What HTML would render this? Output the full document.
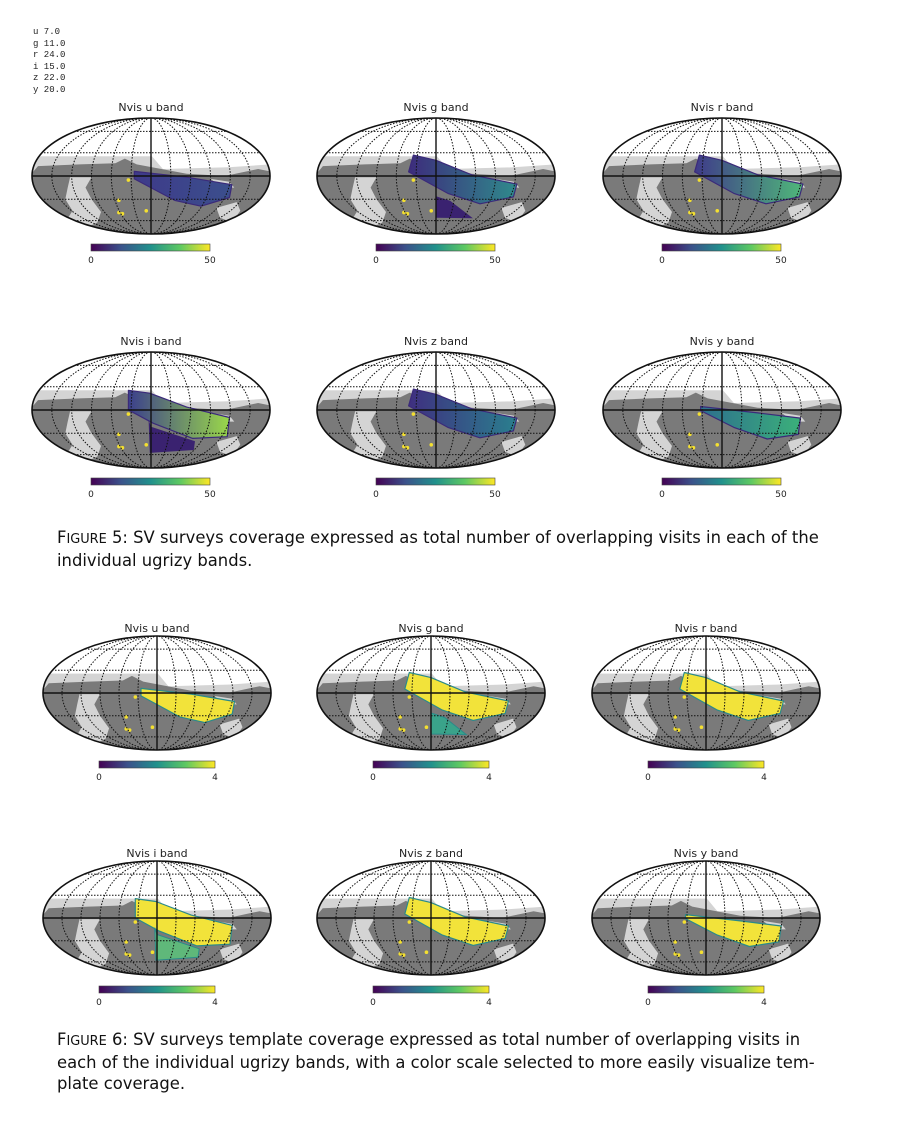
<!DOCTYPE html>
<html><head><meta charset="utf-8"><style>
body{margin:0;background:#fff;}
#root{position:relative;width:916px;height:1146px;overflow:hidden;font-family:"Liberation Sans",sans-serif;}
.cap{position:absolute;left:57px;font-family:"DejaVu Sans","Liberation Sans",sans-serif;font-size:16.4px;line-height:21px;color:#111;white-space:nowrap;}
.sc{font-size:12.9px;}
#legend{position:absolute;left:33px;top:27px;font-family:"Liberation Mono",monospace;font-size:9px;line-height:11.6px;color:#222;white-space:pre;}
</style></head><body>
<div id="root">
<div id="legend">u 7.0
g 11.0
r 24.0
i 15.0
z 22.0
y 20.0</div>
<svg id="svg" width="916" height="1146" style="position:absolute;left:0;top:0">
<defs>
<linearGradient id="viridis" x1="0" x2="1" y1="0" y2="0">
<stop offset="0" stop-color="#440154"/><stop offset="0.25" stop-color="#3b528b"/><stop offset="0.5" stop-color="#21918c"/><stop offset="0.75" stop-color="#5ec962"/><stop offset="1" stop-color="#fde725"/>
</linearGradient>
</defs>
</svg>
<div class="cap" style="top:527px">F<span class="sc">IGURE</span> 5: SV surveys coverage expressed as total number of overlapping visits in each of the<br>individual ugrizy bands.</div>
<div class="cap" style="top:1029px">F<span class="sc">IGURE</span> 6: SV surveys template coverage expressed as total number of overlapping visits in<br>each of the individual ugrizy bands, with a color scale selected to more easily visualize tem-<br>plate coverage.</div>
</div>
<script>
const bands = ['u','g','r','i','z','y'];
const fig5Max = 50;
const fig6Max = 4;
const stripes = {
 u:[[-0.14,-0.08],[0.3,0.02],[0.68,0.15],[0.66,0.37],[0.42,0.52],[0.2,0.42],[-0.14,0.05]],
 g:[[-0.19,-0.36],[0.0,-0.27],[0.3,-0.02],[0.68,0.14],[0.65,0.36],[0.37,0.48],[0.1,0.3],[-0.23,-0.07]],
 r:[[-0.19,-0.36],[0.0,-0.27],[0.3,-0.02],[0.68,0.14],[0.65,0.36],[0.37,0.48],[0.1,0.3],[-0.23,-0.07]],
 i:[[-0.19,-0.34],[-0.01,-0.29],[0.3,-0.05],[0.66,0.13],[0.64,0.46],[0.35,0.49],[0.02,0.23],[-0.19,0]],
 z:[[-0.19,-0.36],[0.0,-0.27],[0.3,-0.02],[0.68,0.14],[0.65,0.36],[0.37,0.48],[0.1,0.3],[-0.23,-0.07]],
 y:[[-0.18,-0.06],[0.3,0.05],[0.66,0.14],[0.64,0.42],[0.38,0.5],[0.1,0.3],[-0.18,0.01]]
};
const extras = {
 g:[[0,0.35],[0,0.72],[0.31,0.73],[0.12,0.43]],
 i:[[-0.02,0.17],[-0.01,0.74],[0.36,0.69],[0.37,0.54],[0,0.29]]
};
const fig5Colors = {u:['#3e3a8a','#3b4f8c'],g:['#3d2c7c','#2f8a8c'],r:['#3f3a8a','#4fb87a'],i:['#3b3f8c','#9ad84a'],z:['#3f2f80','#2a7f8e'],y:['#2d6f8e','#3bb07a']};
const dots = [[-0.19,0.07],[-0.27,0.42],[-0.04,0.6],[-0.27,0.63],[-0.24,0.65]];
const NS='http://www.w3.org/2000/svg';
const svg=document.getElementById('svg');
function el(t,a,p){const e=document.createElementNS(NS,t);for(const k in a)e.setAttribute(k,a[k]);(p||svg).appendChild(e);return e;}
function poly(pts,cx,cy,rx,ry){return pts.map(p=>(cx+p[0]*rx).toFixed(1)+','+(cy+p[1]*ry).toFixed(1)).join(' ');}
let idc=0;
function drawMap(band,cx,cy,rx,ry,titleY,cb,fig6){
 const g=el('g',{});
 
 
 const cid='c'+(idc++);
 const cp=el('clipPath',{id:cid},g);el('ellipse',{cx,cy,rx,ry},cp);
 const t=el('text',{x:cx,y:titleY,'text-anchor':'middle','font-size':'11','fill':'#222','font-family':'DejaVu Sans, Liberation Sans, sans-serif'},g);
 t.textContent='Nvis '+band+' band';
 
 
 const m=el('g',{'clip-path':'url(#'+cid+')'},g);
 el('ellipse',{cx,cy,rx,ry,fill:'#fff'},m);
 el('rect',{x:cx-rx,y:cy-0.34*ry,width:2*rx,height:2*ry,fill:'#d4d4d4'},m);
 el('polygon',{points:poly([[0,-0.36],[1,-0.36],[1,-0.2],[0.65,-0.15],[0.1,-0.12]],cx,cy,rx,ry),fill:'#fff'},m);
 el('polygon',{points:poly([[-1,-0.05],[-0.95,-0.17],[-0.6,-0.2],[-0.3,-0.22],[-0.22,-0.3],[-0.12,-0.2],[0.3,-0.04],[0.62,0],[0.9,-0.12],[1,-0.08],[1,1],[-1,1]],cx,cy,rx,ry),fill:'#7a7a7a'},m);
 el('polygon',{points:poly([[-0.68,0.02],[-0.5,0.02],[-0.55,0.2],[-0.5,0.4],[-0.42,0.62],[-0.45,0.8],[-0.6,0.95],[-0.72,0.8],[-0.66,0.6],[-0.72,0.4],[-0.7,0.2]],cx,cy,rx,ry),fill:'#d4d4d4'},m);
 el('polygon',{points:poly([[0.55,0.55],[0.72,0.45],[0.75,0.6],[0.68,0.8],[0.58,0.72]],cx,cy,rx,ry),fill:'#d4d4d4'},m);
 el('polygon',{points:poly([[0.5,0.05],[0.66,0.1],[0.7,0.2],[0.6,0.2]],cx,cy,rx,ry),fill:'#d4d4d4'},m);
 const c=fig5Colors[band];
 const gid='gr'+(idc++);
 const lg=el('linearGradient',{id:gid,x1:0,x2:1,y1:0,y2:0},g);
 el('stop',{offset:0,'stop-color':c[0]},lg);el('stop',{offset:1,'stop-color':c[1]},lg);
 const fill=fig6?'#f2e33a':'url(#'+gid+')';
 const s=el('polygon',{points:poly(stripes[band],cx,cy,rx,ry),fill,stroke:fig6?'#2b8a8a':'#3b2a7a','stroke-width':1.2,'stroke-linejoin':'round'},m);
 
 
 if(extras[band]){const e=el('polygon',{points:poly(extras[band],cx,cy,rx,ry),fill:fig6?(band=='i'?'#5fb87a':'#3aa38a'):'#3a2270',stroke:fig6?'#2b8a8a':'none'},m);
  
  }
 dots.forEach(d=>el('circle',{cx:cx+d[0]*rx,cy:cy+d[1]*ry,r:1.8,fill:'#f4e030'},m));
 const gs={stroke:'#111','stroke-width':1,'stroke-dasharray':'1.5,1.5',fill:'none'};
 [-0.77,-0.4,0.4,0.77].forEach(v=>el('line',Object.assign({x1:cx-rx,x2:cx+rx,y1:cy+v*ry,y2:cy+v*ry},gs),m));
 for(let k=1;k<6;k++)el('ellipse',Object.assign({cx,cy,rx:rx*k/6,ry},gs),m);
 el('line',{x1:cx-rx,x2:cx+rx,y1:cy,y2:cy,stroke:'#111','stroke-width':1.4},m);
 el('line',{x1:cx,x2:cx,y1:cy-ry,y2:cy+ry,stroke:'#111','stroke-width':1.4},m);
 el('ellipse',{cx,cy,rx,ry,fill:'none',stroke:'#111','stroke-width':1.6},g);
 const r=el('rect',{x:cb[0],y:cb[1],width:cb[2],height:7,fill:'url(#viridis)',stroke:'#444','stroke-width':0.6},g);
 
 
 const mx=fig6?fig6Max:fig5Max;
 [0,mx].forEach(v=>{const tx=el('text',{x:cb[0]+cb[2]*v/mx,y:cb[1]+19,'text-anchor':'middle','font-size':'9','fill':'#222','font-family':'DejaVu Sans, sans-serif'},g);tx.textContent=String(v);
  
  });
}
const f5x=[151,436,722], f6x=[157,431,706];
bands.forEach((b,i)=>{
 const col=i%3,row=Math.floor(i/3);
 const cy=row?410:176, ty=row?345:111;
 drawMap(b,f5x[col],cy,119,58,ty,[f5x[col]-60,cy+68,119],false);
 const cy6=row?918:693, ty6=row?857:632;
 drawMap(b,f6x[col],cy6,114,57,ty6,[f6x[col]-58,cy6+68,116],true);
});
</script>
</body></html>
